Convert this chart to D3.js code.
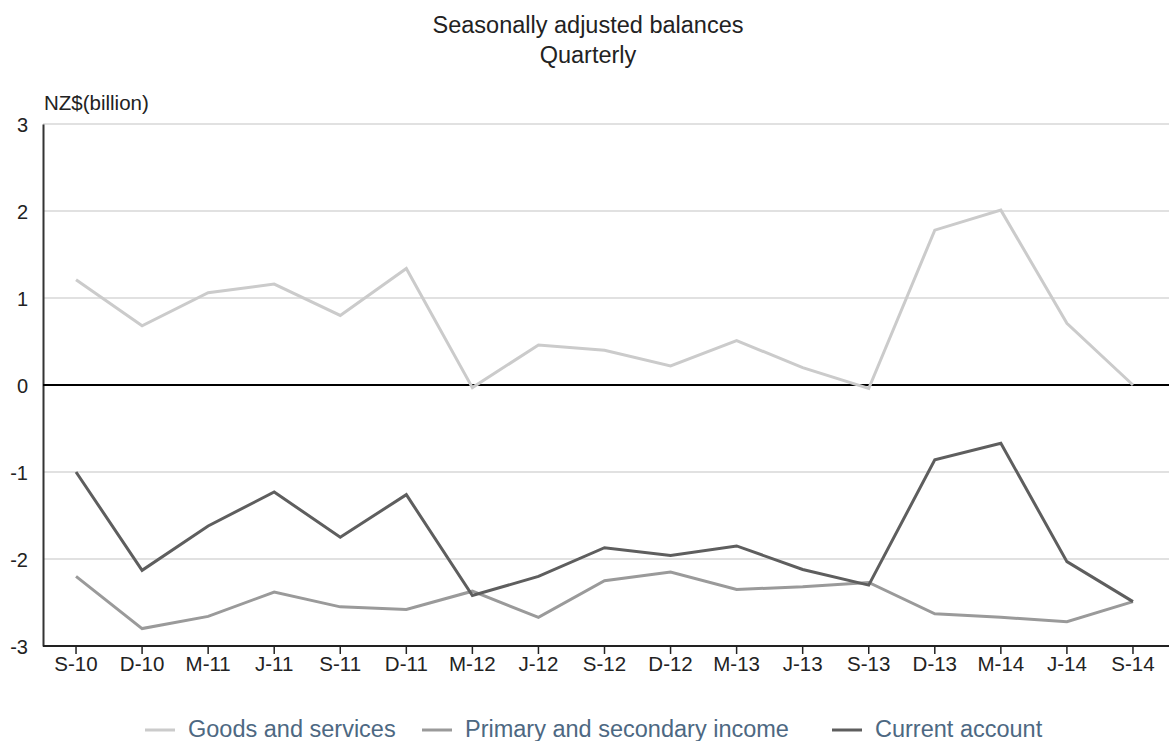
<!DOCTYPE html>
<html>
<head>
<meta charset="utf-8">
<script src="https://cdn.jsdelivr.net/npm/d3@7"></script>
<style>
  html, body { margin: 0; padding: 0; background: #fff; }
  svg { display: block; font-family: "Liberation Sans", Arial, sans-serif; }
</style>
</head>
<body>
<svg id="chart" width="1169" height="741"></svg>
<script>
// Quarter labels (S = September, D = December, M = March, J = June)
const quarters = ["S-10","D-10","M-11","J-11","S-11","D-11","M-12","J-12","S-12",
                  "D-12","M-13","J-13","S-13","D-13","M-14","J-14","S-14"];

// Seasonally adjusted balances, NZ$ billion
const goodsAndServices = [1.21, 0.68, 1.06, 1.16, 0.80, 1.34, -0.03, 0.46, 0.40,
                          0.22, 0.51, 0.20, -0.04, 1.78, 2.01, 0.71, 0.00];
const primarySecondaryIncome = [-2.20, -2.80, -2.66, -2.38, -2.55, -2.58, -2.37, -2.67, -2.25,
                                -2.15, -2.35, -2.32, -2.27, -2.63, -2.67, -2.72, -2.49];
const currentAccount = [-1.00, -2.13, -1.62, -1.23, -1.75, -1.26, -2.42, -2.20, -1.87,
                        -1.96, -1.85, -2.12, -2.30, -0.86, -0.67, -2.03, -2.49];

const yTicks = [-3, -2, -1, 0, 1, 2, 3];

const seriesList = [
  { name: "Goods and services", values: goodsAndServices, color: "#cbcbcb" },
  { name: "Primary and secondary income", values: primarySecondaryIncome, color: "#9a9a9a" },
  { name: "Current account", values: currentAccount, color: "#5e5e5e" }
];

const svg = d3.select("#chart");
const plotLeft = 43, plotRight = 1166, plotTop = 124, plotBottom = 646;
const textColor = "#222";
const font = "Liberation Sans, Arial, sans-serif";

const x = d3.scaleBand().domain(quarters).range([plotLeft, plotRight]).padding(0);
const y = d3.scaleLinear().domain([-3, 3]).range([plotBottom, plotTop]);
const cx = q => x(q) + x.bandwidth() / 2;

// Title
svg.append("text").attr("x", 588).attr("y", 33).attr("text-anchor", "middle")
  .attr("font-size", 23.5).attr("fill", textColor).text("Seasonally adjusted balances");
svg.append("text").attr("x", 588).attr("y", 63).attr("text-anchor", "middle")
  .attr("font-size", 23.5).attr("fill", textColor).text("Quarterly");

// Unit label
svg.append("text").attr("x", 44).attr("y", 110)
  .attr("font-size", 20.5).attr("fill", textColor).text("NZ$(billion)");

// Horizontal gridlines
svg.append("g").selectAll("line").data(yTicks.filter(d => d !== 0 && d !== -3)).join("line")
  .attr("x1", plotLeft).attr("x2", plotRight + 3)
  .attr("y1", d => y(d)).attr("y2", d => y(d))
  .attr("stroke", "#c4c4c4").attr("stroke-width", 1.2);

// Y axis
const yAxis = svg.append("g").attr("transform", `translate(${plotLeft},0)`)
  .call(d3.axisLeft(y).tickValues(yTicks).tickSize(0).tickPadding(15).tickFormat(d => String(d)));
yAxis.select(".domain").attr("stroke", "#333").attr("stroke-width", 2);
yAxis.selectAll("text").attr("font-size", 20).attr("fill", textColor)
  .attr("font-family", font).attr("dy", "0.36em");

// Zero line
svg.append("line").attr("x1", plotLeft).attr("x2", plotRight + 3)
  .attr("y1", y(0)).attr("y2", y(0)).attr("stroke", "#000").attr("stroke-width", 1.8);

// X axis at the bottom
const xAxis = svg.append("g").attr("transform", `translate(0,${plotBottom})`)
  .call(d3.axisBottom(x).tickSize(8).tickPadding(6).tickSizeOuter(0));
xAxis.select(".domain").attr("stroke", "#222").attr("stroke-width", 2)
  .attr("d", `M${plotLeft},0H${plotRight + 3}`);
xAxis.selectAll(".tick line").attr("stroke", "#222").attr("stroke-width", 1.5);
xAxis.selectAll("text").attr("font-size", 20.5).attr("fill", textColor)
  .attr("font-family", font).attr("dy", "0.71em").attr("y", 10);

// Series lines
const line = d3.line().x((d, i) => cx(quarters[i])).y(d => y(d));
svg.append("g").selectAll("path").data(seriesList).join("path")
  .attr("d", s => line(s.values))
  .attr("fill", "none").attr("stroke", s => s.color)
  .attr("stroke-width", 3).attr("stroke-linejoin", "miter");

// Legend
const legendX = [145, 422, 832];
const legend = svg.append("g").selectAll("g").data(seriesList).join("g")
  .attr("transform", (s, i) => `translate(${legendX[i]},730)`);
legend.append("line").attr("x1", 0).attr("x2", 30).attr("y1", 0).attr("y2", 0)
  .attr("stroke", s => s.color).attr("stroke-width", 3);
legend.append("text").attr("x", 43).attr("y", 7)
  .attr("font-size", 23.5).attr("fill", "#4d6882").text(s => s.name);
</script>
</body>
</html>
